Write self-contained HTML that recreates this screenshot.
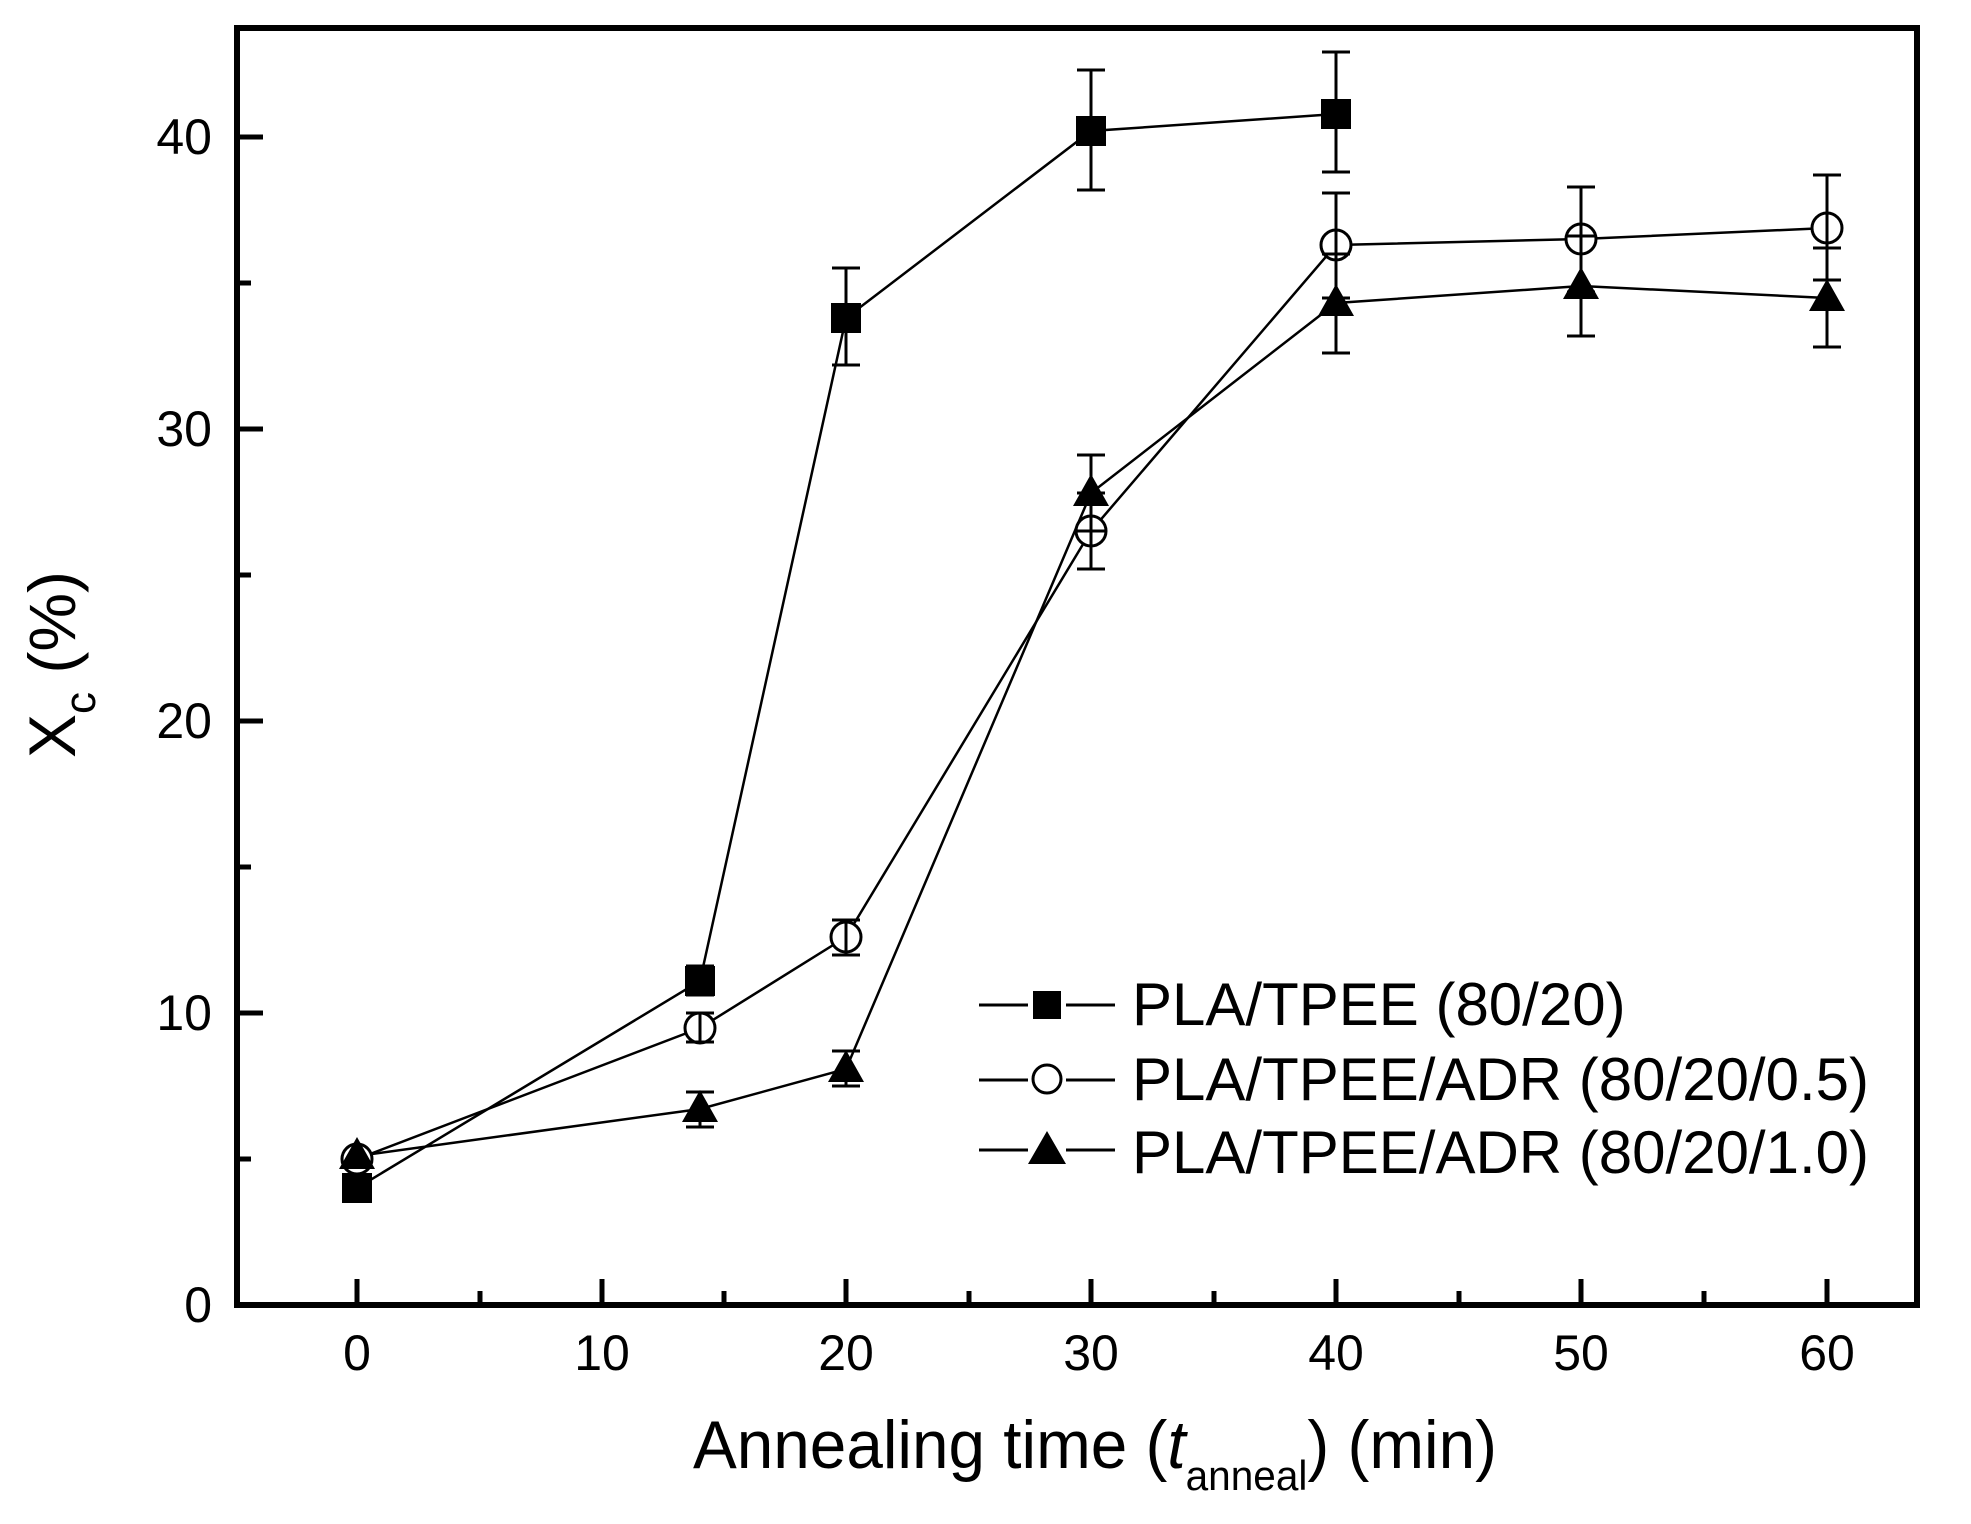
<!DOCTYPE html>
<html><head><meta charset="utf-8"><style>html,body{margin:0;padding:0;background:#fff}svg{display:block}</style></head>
<body>
<svg width="1971" height="1524" viewBox="0 0 1971 1524" xmlns="http://www.w3.org/2000/svg" font-family="Liberation Sans, Arial, sans-serif">
<rect width="1971" height="1524" fill="#fff"/>
<g stroke="#000" stroke-width="5">
<line x1="357" y1="1305" x2="357" y2="1279"/><line x1="602" y1="1305" x2="602" y2="1279"/><line x1="846" y1="1305" x2="846" y2="1279"/><line x1="1091" y1="1305" x2="1091" y2="1279"/><line x1="1336" y1="1305" x2="1336" y2="1279"/><line x1="1581" y1="1305" x2="1581" y2="1279"/><line x1="1827" y1="1305" x2="1827" y2="1279"/>
<line x1="480" y1="1305" x2="480" y2="1291"/><line x1="724" y1="1305" x2="724" y2="1291"/><line x1="969" y1="1305" x2="969" y2="1291"/><line x1="1214" y1="1305" x2="1214" y2="1291"/><line x1="1459" y1="1305" x2="1459" y2="1291"/><line x1="1704" y1="1305" x2="1704" y2="1291"/>
<line x1="237" y1="1013" x2="263" y2="1013"/><line x1="237" y1="721" x2="263" y2="721"/><line x1="237" y1="429" x2="263" y2="429"/><line x1="237" y1="137" x2="263" y2="137"/>
<line x1="237" y1="1159" x2="251" y2="1159"/><line x1="237" y1="867" x2="251" y2="867"/><line x1="237" y1="575" x2="251" y2="575"/><line x1="237" y1="283" x2="251" y2="283"/>
</g>
<rect x="237" y="28" width="1680" height="1277" fill="none" stroke="#000" stroke-width="6"/>
<g font-size="50" fill="#000" text-anchor="middle">
<text x="357" y="1370">0</text><text x="602" y="1370">10</text><text x="846" y="1370">20</text><text x="1091" y="1370">30</text><text x="1336" y="1370">40</text><text x="1581" y="1370">50</text><text x="1827" y="1370">60</text>
</g>
<g font-size="50" fill="#000" text-anchor="end">
<text x="212" y="1322">0</text><text x="212" y="1030">10</text><text x="212" y="738">20</text><text x="212" y="446">30</text><text x="212" y="154">40</text>
</g>
<text x="693" y="1468" font-size="68" fill="#000" textLength="804" lengthAdjust="spacingAndGlyphs">Annealing time (<tspan font-style="italic">t</tspan><tspan font-size="42" dy="22">anneal</tspan><tspan dy="-22">) (min)</tspan></text>
<g transform="translate(75,758) rotate(-90)"><text x="0" y="0" font-size="66" fill="#000">X<tspan font-size="44" dy="20">c</tspan><tspan dy="-20"> (%)</tspan></text></g>
<g stroke="#000" stroke-width="2.5" fill="none">
<polyline points="357,1188 700,981 846,318 1091,131 1336,114"/>
<polyline points="357,1159 700,1028 846,937 1091,531 1336,245 1581,239 1827,228"/>
<polyline points="357,1156 700,1109 846,1069 1091,493 1336,303 1581,286 1827,298"/>
</g>
<g stroke="#000" stroke-width="3" fill="#fff">
<circle cx="357" cy="1159" r="15"/><circle cx="700" cy="1028" r="15"/><circle cx="846" cy="937" r="15"/><circle cx="1091" cy="531" r="15"/><circle cx="1336" cy="245" r="15"/><circle cx="1581" cy="239" r="15"/><circle cx="1827" cy="228" r="15"/>
</g>
<g stroke="#000" stroke-width="3">
<path d="M700,995V966M686,995h28M686,966h28 M846,365V268M832,365h28M832,268h28 M1091,190V70M1077,190h28M1077,70h28 M1336,172V52M1322,172h28M1322,52h28"/>
<path d="M700,1042V1013M686,1042h28M686,1013h28 M846,955V920M832,955h28M832,920h28 M1091,569V493M1077,569h28M1077,493h28 M1336,298V193M1322,298h28M1322,193h28 M1581,292V187M1567,292h28M1567,187h28 M1827,280V175M1813,280h28M1813,175h28"/>
<path d="M700,1127V1092M686,1127h28M686,1092h28 M846,1086V1051M832,1086h28M832,1051h28 M1091,531V455M1077,531h28M1077,455h28 M1336,353V254M1322,353h28M1322,254h28 M1581,336V236M1567,336h28M1567,236h28 M1827,347V248M1813,347h28M1813,248h28"/>
</g>
<g fill="#000">
<rect x="342" y="1173" width="30" height="30"/><rect x="685" y="966" width="30" height="30"/><rect x="831" y="303" width="30" height="30"/><rect x="1076" y="116" width="30" height="30"/><rect x="1321" y="99" width="30" height="30"/>
<polygon points="339,1169 375,1169 357,1137"/><polygon points="682,1122 718,1122 700,1090"/><polygon points="828,1082 864,1082 846,1050"/><polygon points="1073,506 1109,506 1091,474"/><polygon points="1318,316 1354,316 1336,284"/><polygon points="1563,299 1599,299 1581,267"/><polygon points="1809,311 1845,311 1827,279"/>
</g>
<g stroke="#000" stroke-width="3">
<line x1="979" y1="1005" x2="1028" y2="1005"/><line x1="1066" y1="1005" x2="1115" y2="1005"/>
<line x1="979" y1="1080" x2="1028" y2="1080"/><line x1="1066" y1="1080" x2="1115" y2="1080"/>
<line x1="979" y1="1150" x2="1028" y2="1150"/><line x1="1066" y1="1150" x2="1115" y2="1150"/>
<circle cx="1047" cy="1079" r="14" fill="#fff"/>
</g>
<rect x="1033" y="991" width="28" height="28" fill="#000"/>
<polygon points="1028,1164 1066,1164 1047,1131" fill="#000"/>
<g font-size="60" fill="#000">
<text x="1132" y="1025">PLA/TPEE (80/20)</text>
<text x="1132" y="1100">PLA/TPEE/ADR (80/20/0.5)</text>
<text x="1132" y="1173">PLA/TPEE/ADR (80/20/1.0)</text>
</g>
</svg>
</body></html>
